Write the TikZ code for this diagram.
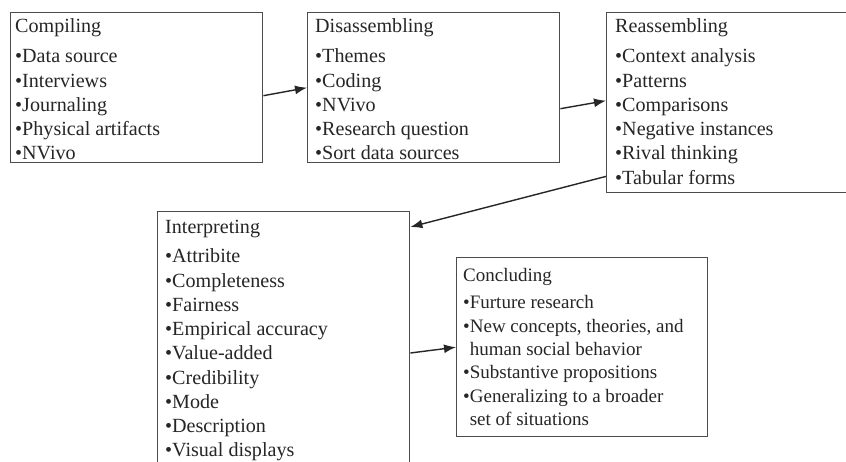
\documentclass[tikz,border=0pt]{standalone}
\usepackage{fontspec}
\setmainfont{Liberation Serif}
\usetikzlibrary{arrows.meta}
\begin{document}
\begin{tikzpicture}[x=1pt,y=-1pt,
  box/.style={draw=black!70,line width=1.4pt,rectangle,anchor=north west,inner sep=0pt},
  txt/.style={anchor=base west,inner sep=0pt,text=black!85,font=\fontsize{20.1}{24.25}\selectfont},
  txtb/.style={txt,font=\fontsize{19}{23.3}\selectfont},
  conn/.style={draw=black!85,line width=1.4pt,-{Latex[length=12pt,width=9pt]}}]
\useasboundingbox[fill=white] (0,0) rectangle (846,462);
\node[box,minimum width=252pt,minimum height=150pt] (b1) at (10,12) {};
\node[box,minimum width=252pt,minimum height=150pt] (b2) at (307,12) {};
\node[box,minimum width=244pt,minimum height=180pt] (b3) at (606,12) {};
\node[box,minimum width=252pt,minimum height=264pt] (b4) at (157,211) {};
\node[box,minimum width=251pt,minimum height=179pt] (b5) at (456,257) {};
\node[txt] (t1) at (15,33) {\parbox[t]{240pt}{Compiling\\[5.75pt]
  •Data source\\ •Interviews\\ •Journaling\\ •Physical artifacts\\ •NVivo}};
\node[txt] (t2) at (315,33) {\parbox[t]{240pt}{Disassembling\\[5.75pt]
  •Themes\\ •Coding\\ •NVivo\\ •Research question\\ •Sort data sources}};
\node[txt] (t3) at (615,33) {\parbox[t]{230pt}{Reassembling\\[5.75pt]
  •Context analysis\\ •Patterns\\ •Comparisons\\ •Negative instances\\ •Rival thinking\\ •Tabular forms}};
\node[txt] (t4) at (165,234) {\parbox[t]{240pt}{Interpreting\\[4.75pt]
  •Attribite\\ •Completeness\\ •Fairness\\ •Empirical accuracy\\ •Value-added\\ •Credibility\\ •Mode\\ •Description\\ •Visual displays}};
\node[txtb] (t5) at (463,282) {\parbox[t]{240pt}{Concluding\\[3.7pt]
  •Furture research\\ •New concepts, theories, and\\ \phantom{•}human social behavior\\ •Substantive propositions\\ •Generalizing to a broader\\ \phantom{•}set of situations}};
\draw[conn] ([yshift=-8pt]b1.east) -- (b2.west);
\draw[conn] ([yshift=-21pt]b2.east) -- ([yshift=2pt]b3.west);
\draw[conn] ([yshift=17pt]b3.south west) -- ([yshift=-16pt]b4.north east);
\draw[conn] ([yshift=-142pt]b4.north east) -- (b5.west);
\end{tikzpicture}
\end{document}
